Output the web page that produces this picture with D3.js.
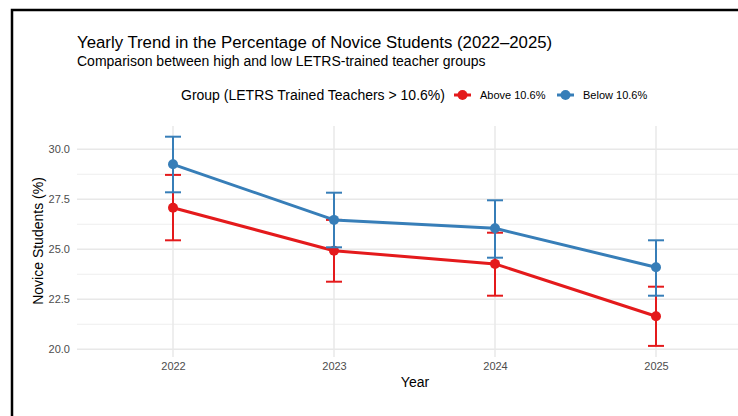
<!DOCTYPE html>
<html><head><meta charset="utf-8">
<script src="https://cdn.jsdelivr.net/npm/d3@7"></script>
<style>
html,body{margin:0;padding:0;background:#fff;}
svg{display:block;font-family:"Liberation Sans",Arial,sans-serif;}
</style></head>
<body><svg id="chart" width="738" height="416"></svg>
<script>
const years = ["2022","2023","2024","2025"];
const groups = ["Above 10.6%","Below 10.6%"];
const colors = ["#E41A1C","#377EB8"];
const aboveMean  = [27.08, 24.93, 24.27, 21.65];
const aboveUpper = [28.72, 26.47, 25.83, 23.13];
const aboveLower = [25.45, 23.38, 22.68, 20.17];
const belowMean  = [29.25, 26.47, 26.05, 24.10];
const belowUpper = [30.63, 27.83, 27.45, 25.45];
const belowLower = [27.85, 25.10, 24.58, 22.68];
const yTicks = [20.0, 22.5, 25.0, 27.5, 30.0];
const yMinor = [21.25, 23.75, 26.25, 28.75];

const series = [
  {name: groups[0], color: colors[0], mean: aboveMean, up: aboveUpper, lo: aboveLower},
  {name: groups[1], color: colors[1], mean: belowMean, up: belowUpper, lo: belowLower}
];

const svg = d3.select("#chart");
const panel = {left: 77, right: 753, top: 126, bottom: 357};

const x = d3.scalePoint().domain(years).range([173, 656]);
const y = d3.scaleLinear().domain([20, 30]).range([349.3, 149.3]);

// border
svg.append("path").attr("d","M12,420 L12,10 L740,10").attr("fill","none").attr("stroke","#000").attr("stroke-width",2.5);

const clip = svg.append("g");
// grid
clip.selectAll(".minor").data(yMinor).join("line")
  .attr("x1", panel.left).attr("x2", panel.right)
  .attr("y1", d=>y(d)).attr("y2", d=>y(d))
  .attr("stroke","#ebebeb").attr("stroke-width",0.8);
clip.selectAll(".major").data(yTicks).join("line")
  .attr("x1", panel.left).attr("x2", panel.right)
  .attr("y1", d=>y(d)).attr("y2", d=>y(d))
  .attr("stroke","#e8e8e8").attr("stroke-width",1.5);
clip.selectAll(".vgrid").data(years).join("line")
  .attr("x1", d=>x(d)).attr("x2", d=>x(d))
  .attr("y1", panel.top).attr("y2", panel.bottom)
  .attr("stroke","#e8e8e8").attr("stroke-width",1.5);

// y axis labels
const yAxis = d3.axisLeft(y).tickValues(yTicks).tickFormat(d3.format(".1f")).tickSize(0).tickPadding(0);
const ya = svg.append("g").attr("transform", `translate(70,0)`).call(yAxis);
ya.select(".domain").remove();
ya.selectAll("text").attr("font-size", 11).attr("fill","#4d4d4d").attr("font-family","Liberation Sans, Arial, sans-serif");

const xAxis = d3.axisBottom(x).tickSize(0).tickPadding(0);
const xa = svg.append("g").attr("transform", `translate(0,362)`).call(xAxis);
xa.select(".domain").remove();
xa.selectAll("text").attr("font-size", 11).attr("fill","#4d4d4d").attr("font-family","Liberation Sans, Arial, sans-serif");

// axis titles
svg.append("text").attr("x", 415).attr("y", 387).attr("text-anchor","middle")
  .attr("font-size", 14).attr("fill","#000").text("Year");
svg.append("text").attr("transform","translate(43,241) rotate(-90)").attr("text-anchor","middle")
  .attr("font-size", 14).attr("fill","#000").text("Novice Students (%)");

// title
svg.append("text").attr("x", 77).attr("y", 48).attr("font-size", 16.8).attr("fill","#000")
  .text("Yearly Trend in the Percentage of Novice Students (2022\u20132025)");
svg.append("text").attr("x", 77).attr("y", 66).attr("font-size", 14).attr("fill","#000")
  .text("Comparison between high and low LETRS-trained teacher groups");

// series
const line = d3.line().x((d,i)=>x(years[i])).y(d=>y(d));
series.forEach(s => {
  const g = svg.append("g");
  g.append("path").datum(s.mean).attr("d", line).attr("fill","none")
    .attr("stroke", s.color).attr("stroke-width", 3).attr("stroke-linejoin","round");
  years.forEach((yr,i) => {
    const cx = x(yr);
    g.append("line").attr("x1",cx).attr("x2",cx).attr("y1",y(s.lo[i])).attr("y2",y(s.up[i]))
      .attr("stroke", s.color).attr("stroke-width", 2);
    [s.lo[i], s.up[i]].forEach(v => {
      g.append("line").attr("x1",cx-8).attr("x2",cx+8).attr("y1",y(v)).attr("y2",y(v))
        .attr("stroke", s.color).attr("stroke-width", 2);
    });
  });
  g.selectAll("circle").data(s.mean).join("circle")
    .attr("cx",(d,i)=>x(years[i])).attr("cy",d=>y(d)).attr("r",5).attr("fill", s.color);
});

// legend
const lg = svg.append("g");
lg.append("text").attr("x", 181).attr("y", 100).attr("font-size", 14).attr("fill","#000")
  .text("Group (LETRS Trained Teachers > 10.6%)");
const legX = [454, 557];
series.forEach((s,i) => {
  const lx = legX[i];
  lg.append("line").attr("x1", lx).attr("x2", lx+17).attr("y1", 95).attr("y2", 95)
    .attr("stroke", s.color).attr("stroke-width", 3);
  lg.append("circle").attr("cx", lx+8.5).attr("cy", 95).attr("r", 5).attr("fill", s.color);
  lg.append("text").attr("x", lx+26).attr("y", 99).attr("font-size", 11).attr("fill","#000").text(s.name);
});
</script></body></html>
